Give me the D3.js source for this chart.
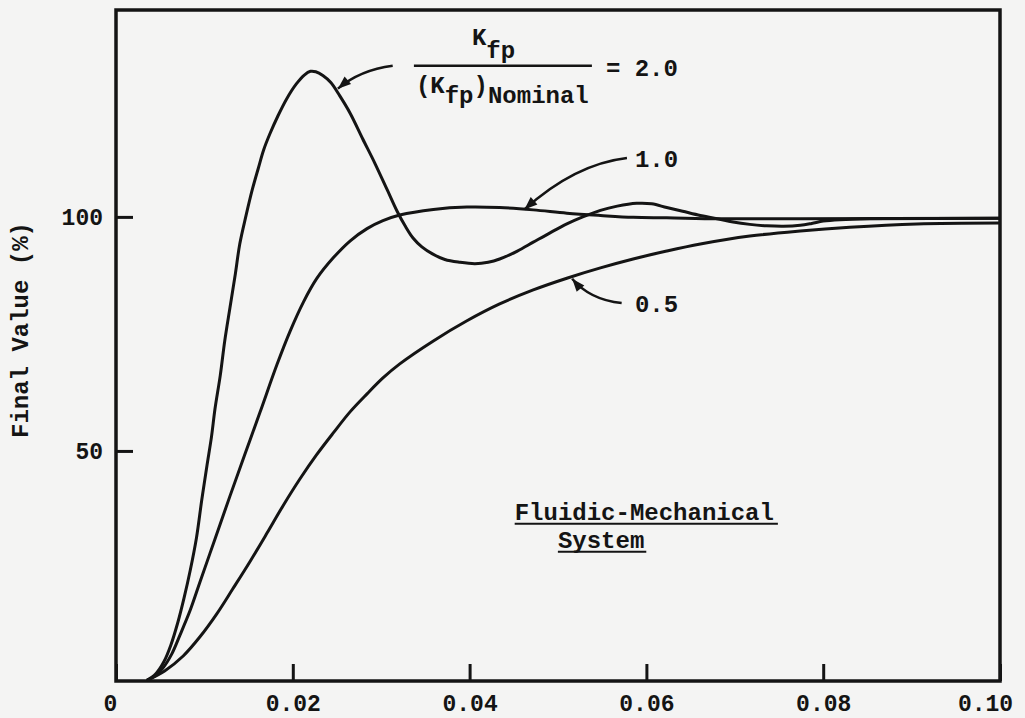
<!DOCTYPE html>
<html>
<head>
<meta charset="utf-8">
<script src="https://cdn.jsdelivr.net/npm/d3@7"></script>
<style>
  html, body { margin: 0; padding: 0; background: #f4f4f3; }
  svg { display: block; }
</style>
</head>
<body>
<svg id="chart" width="1025" height="718"></svg>
<script>
// Kfp / (Kfp)nominal = 2.0
const t20 = [0.0035, 0.0045, 0.0054, 0.0062, 0.0070, 0.0077, 0.0084, 0.0091, 0.0097, 0.0103,
  0.0108, 0.0112, 0.0118, 0.0123, 0.0129, 0.0135, 0.0140, 0.0147, 0.0154, 0.0161, 0.0167,
  0.0174, 0.0183, 0.0193, 0.0204, 0.0213, 0.0220, 0.0226, 0.0234, 0.0243, 0.0253, 0.0265,
  0.0279, 0.0293, 0.0307, 0.0318, 0.0327, 0.0336, 0.0346, 0.0358, 0.0372, 0.0389, 0.0406,
  0.0421, 0.0434, 0.0454, 0.0472, 0.0491, 0.0510, 0.0528, 0.0548, 0.0567, 0.0589, 0.0606,
  0.0623, 0.0641, 0.0661, 0.0680, 0.0698, 0.0717, 0.0736, 0.0755, 0.0774, 0.0787, 0.0800,
  0.0819, 0.0853, 0.1000];
const v20 = [1.0, 2.4, 4.9, 8.5, 13.4, 18.6, 24.5, 31.4, 39.5, 47.0,
  53.0, 59.0, 66.2, 73.5, 80.7, 87.8, 94.2, 100.2, 105.7, 110.4, 114.3,
  117.7, 121.5, 125.2, 128.4, 130.3, 131.1, 131.0, 130.2, 128.7, 125.9, 122.1,
  116.7, 111.4, 105.7, 101.2, 98.1, 95.5, 93.6, 92.1, 90.9, 90.3, 90.0,
  90.3, 91.0, 92.7, 94.6, 96.6, 98.5, 100.0, 101.4, 102.3, 102.9, 102.8,
  102.0, 101.2, 100.3, 99.6, 98.9, 98.4, 98.1, 98.0, 98.2, 98.6, 99.1,
  99.4, 99.6, 99.7];

// ratio 1.0
const t10 = [0.0035, 0.0044, 0.0053, 0.0063, 0.0072, 0.0084, 0.0095, 0.0112, 0.0129, 0.0146,
  0.0163, 0.0182, 0.0197, 0.0212, 0.0227, 0.0246, 0.0265, 0.0284, 0.0302, 0.0321,
  0.0359, 0.0397, 0.0434, 0.0472, 0.0510, 0.0548, 0.0585, 0.0623, 0.0683, 0.0774, 0.1000];
const v10 = [1.0, 1.9, 3.6, 6.6, 10.5, 16.0, 22.0, 31.2, 40.4, 49.4,
  58.3, 68.4, 75.6, 81.8, 86.8, 91.3, 94.9, 97.5, 99.2, 100.4,
  101.6, 102.1, 102.0, 101.5, 100.8, 100.3, 99.9, 99.8, 99.6, 99.6, 99.7];

// ratio 0.5
const t05 = [0.0035, 0.0055, 0.0076, 0.0095, 0.0114, 0.0132, 0.0152, 0.0171, 0.0189, 0.0208,
  0.0227, 0.0246, 0.0265, 0.0284, 0.0302, 0.0321, 0.0359, 0.0397, 0.0434, 0.0472,
  0.0510, 0.0548, 0.0585, 0.0623, 0.0661, 0.0717, 0.0774, 0.0830, 0.0906, 0.1000];
const v05 = [1.0, 3.0, 6.2, 10.3, 15.2, 20.5, 26.5, 32.5, 38.3, 44.0,
  49.2, 53.9, 58.4, 62.2, 65.6, 68.6, 73.5, 77.8, 81.4, 84.4,
  86.9, 89.1, 91.0, 92.7, 94.2, 95.9, 97.0, 97.8, 98.5, 98.7];

const xTicks = [0, 0.02, 0.04, 0.06, 0.08, 0.10];
const xTickLabels = ['0', '0.02', '0.04', '0.06', '0.08', '0.10'];
const yTicks = [50, 100];
const yTickLabels = ['50', '100'];
const yTitle = 'Final Value (%)';
const curveLabels = ['2.0', '1.0', '0.5'];
const systemLabel = ['Fluidic-Mechanical', 'System'];

const W = 1025, H = 718;
const margin = { top: 10, right: 25, bottom: 37, left: 116 };
const width = W - margin.left - margin.right;
const height = H - margin.top - margin.bottom;
const ink = '#141414';
const mono = '"Liberation Mono", "DejaVu Sans Mono", monospace';
const charW = 14.4;

const svg = d3.select('#chart');
const g = svg.append('g').attr('transform', `translate(${margin.left},${margin.top})`);

const x = d3.scaleLinear().domain([0, 0.10]).range([0, width]);
const y = d3.scaleLinear().domain([0.85, 144.2]).range([height, 0]);

// Axes, ticks point inward
const xAxis = g.append('g').attr('transform', `translate(0,${height})`)
  .call(d3.axisBottom(x).tickValues(xTicks).tickSizeInner(-17).tickSizeOuter(0).tickPadding(14)
    .tickFormat((d, i) => xTickLabels[i]));
const yAxis = g.append('g')
  .call(d3.axisLeft(y).tickValues(yTicks).tickSizeInner(-17).tickSizeOuter(0).tickPadding(13)
    .tickFormat((d, i) => yTickLabels[i]));
[xAxis, yAxis].forEach(a => {
  a.select('.domain').remove();
  a.selectAll('line').attr('stroke', ink).attr('stroke-width', 3);
  a.selectAll('text').attr('fill', ink)
    .style('font-size', '23px').style('font-weight', 'bold').style('font-family', mono);
});
xAxis.selectAll('text').attr('dx', (d, i) => i === 0 ? -6 : (i === xTicks.length - 1 ? -15 : 0));

// Frame
g.append('rect').attr('x', 0).attr('y', 0).attr('width', width).attr('height', height)
  .attr('fill', 'none').attr('stroke', ink).attr('stroke-width', 3.5);

// Curves
const line = d3.line().x(d => x(d[0])).y(d => y(d[1])).curve(d3.curveCatmullRom.alpha(0.5));
[[t20, v20], [t10, v10], [t05, v05]].forEach(([ts, vs]) => {
  g.append('path').datum(ts.map((t, i) => [t, vs[i]]))
    .attr('fill', 'none').attr('stroke', ink).attr('stroke-width', 3)
    .attr('stroke-linejoin', 'round').attr('d', line);
});

function txt(px, py, s) {
  return g.append('text').attr('x', px).attr('y', py).text(s)
    .attr('fill', ink).style('font-size', '24px').style('font-weight', 'bold')
    .style('font-family', mono);
}

// Leader with arrowhead: [start, control, end] in data units
function leader(p) {
  const [s, c, e] = p.map(d => [x(d[0]), y(d[1])]);
  g.append('path').attr('d', `M${s[0]},${s[1]} Q${c[0]},${c[1]} ${e[0]},${e[1]}`)
    .attr('fill', 'none').attr('stroke', ink).attr('stroke-width', 2.5);
  const ang = Math.atan2(e[1] - c[1], e[0] - c[0]);
  const L = 13, Wd = 5;
  const bx = e[0] - L * Math.cos(ang), by = e[1] - L * Math.sin(ang);
  const nx = -Math.sin(ang) * Wd, ny = Math.cos(ang) * Wd;
  g.append('path').attr('d', `M${e[0]},${e[1]} L${bx + nx},${by + ny} L${bx - nx},${by - ny} Z`)
    .attr('fill', ink);
}

// Ratio fraction label, anchored at the left end of the fraction bar
const fx = x(0.0337), fy = y(132.3);
const num = txt(fx + 58, fy - 21, 'K');
num.append('tspan').attr('dy', 13).text('fp');
g.append('line').attr('x1', fx).attr('x2', fx + 178).attr('y1', fy).attr('y2', fy)
  .attr('stroke', ink).attr('stroke-width', 2.5);
const den = txt(fx + 2, fy + 27, '(K');
den.append('tspan').attr('dy', 10).text('fp');
den.append('tspan').attr('dy', -10).text(')');
den.append('tspan').attr('dy', 10).text('Nominal');
txt(fx + 192, fy + 10, '= ' + curveLabels[0]);
leader([[0.0313, 132.3], [0.0276, 131.4], [0.0251, 127.4]]);

// 1.0 and 0.5 labels
txt(x(0.0587), y(110.7), curveLabels[1]);
leader([[0.0578, 112.6], [0.0519, 111.3], [0.0462, 101.6]]);
txt(x(0.0587), y(79.7), curveLabels[2]);
leader([[0.0572, 81.6], [0.0536, 82.3], [0.0516, 86.8]]);

// System label, underlined
const sx = x(0.0451), sy1 = y(35.3), sy2 = y(29.3);
txt(sx, sy1, systemLabel[0]);
g.append('line').attr('x1', sx).attr('x2', sx + systemLabel[0].length * charW + 4)
  .attr('y1', sy1 + 4).attr('y2', sy1 + 4).attr('stroke', ink).attr('stroke-width', 2);
txt(sx + 3 * charW, sy2, systemLabel[1]);
g.append('line').attr('x1', sx + 3 * charW).attr('x2', sx + 3 * charW + systemLabel[1].length * charW + 2)
  .attr('y1', sy2 + 4).attr('y2', sy2 + 4).attr('stroke', ink).attr('stroke-width', 2);

// Y title
g.append('text').attr('transform', `translate(${28 - margin.left},${330 - margin.top}) rotate(-90)`)
  .attr('text-anchor', 'middle').text(yTitle).attr('fill', ink)
  .style('font-size', '24px').style('font-weight', 'bold').style('font-family', mono);
</script>
</body>
</html>
